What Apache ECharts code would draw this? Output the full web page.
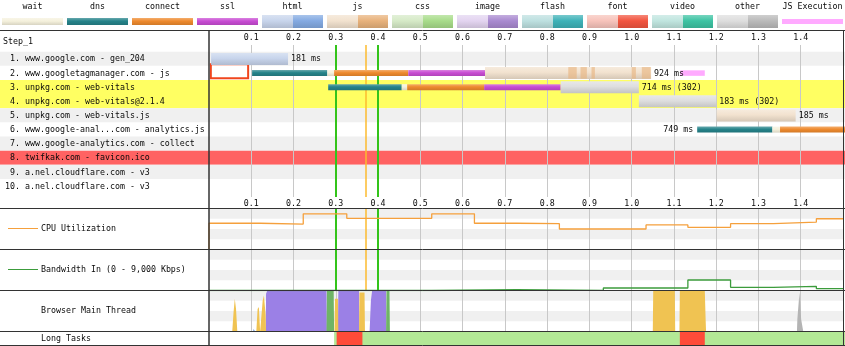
<!DOCTYPE html>
<html><head><meta charset="utf-8">
<script src="https://cdn.jsdelivr.net/npm/echarts@6/dist/echarts.min.js"></script>
<style>html,body{margin:0;padding:0;background:#fff}#c{width:845px;height:346px}</style>
</head><body><div id="c"></div>
<script>
// ---------------- DATA ----------------
const legendNames = ['wait','dns','connect','ssl','html','js','css','image','flash','font','video','other','JS Execution'];
const timeTicks = [0.1,0.2,0.3,0.4,0.5,0.6,0.7,0.8,0.9,1.0,1.1,1.2,1.3,1.4];
const stepName = 'Step_1';
const rowLabels = [
  ' 1. www.google.com - gen_204',
  ' 2. www.googletagmanager.com - js',
  ' 3. unpkg.com - web-vitals',
  ' 4. unpkg.com - web-vitals@2.1.4',
  ' 5. unpkg.com - web-vitals.js',
  ' 6. www.google-anal...com - analytics.js',
  ' 7. www.google-analytics.com - collect',
  ' 8. twifkak.com - favicon.ico',
  ' 9. a.nel.cloudflare.com - v3',
  '10. a.nel.cloudflare.com - v3'
];
const rowStatus = [200,200,302,302,200,200,200,404,200,200];
// [row, start s, end s, phase]
const segments = [
  [1, 0.005, 0.187, 'html'],
  [2, 0.102, 0.280, 'dns'],
  [2, 0.280, 0.296, 'wait'],
  [2, 0.296, 0.4715, 'connect'],
  [2, 0.4715, 0.653, 'ssl'],
  [2, 0.653, 1.046, 'js'],
  [3, 0.282, 0.456, 'dns'],
  [3, 0.456, 0.469, 'wait'],
  [3, 0.469, 0.651, 'connect'],
  [3, 0.651, 0.832, 'ssl'],
  [3, 0.832, 1.017, 'other'],
  [4, 1.017, 1.200, 'other'],
  [5, 1.201, 1.388, 'js'],
  [6, 1.155, 1.333, 'dns'],
  [6, 1.333, 1.351, 'wait'],
  [6, 1.351, 1.510, 'connect']
];
const downloadChunks = [[2,0.850,0.870],[2,0.879,0.894],[2,0.905,0.913],[2,1.000,1.010],[2,1.024,1.045]];
const jsExecution = [[2, 1.115, 1.173]];
const blockedBoxes = [[2, 0.002, 0.095]];
const durationLabels = [
  [1, 0.187, '181 ms', 'right'],
  [2, 1.046, '924 ms', 'right'],
  [3, 1.017, '714 ms (302)', 'right'],
  [4, 1.200, '183 ms (302)', 'right'],
  [5, 1.388, '185 ms', 'right'],
  [6, 1.155, '749 ms', 'left']
];
const eventTimes = [0.296, 0.371, 0.402];
const eventKinds = ['startRender', 'domInteractive', 'startRender'];

const cpuTimes  = [0, 0, 0.121, 0.223, 0.326, 0.527, 0.628, 0.728, 0.829, 1.034, 1.133, 1.234, 1.335, 1.437, 1.5];
const cpuValues = [0, 64, 62, 87, 76, 87, 64, 63, 50, 60, 54, 63, 67, 75, 75];
const bwTimes  = [0, 0.527, 0.728, 0.933, 1.133, 1.234, 1.335, 1.437, 1.5];
const bwValues = [0, 200, 30, 550, 2300, 700, 900, 400, 400];
const bwMax = 9000;

const mtScript = [[0.055,0],[0.058,45],[0.061,80],[0.064,55],[0.067,0],[0.112,0],[0.115,55],[0.118,60],[0.121,0],[0.124,0],[0.127,75],[0.130,88],[0.134,40],[0.135,0],[0.297,0],[0.298,80],[0.305,80],[0.306,0],[0.355,0],[0.356,95],[0.368,95],[0.369,0],[1.050,0],[1.051,100],[1.102,100],[1.103,0],[1.113,0],[1.114,100],[1.173,100],[1.175,30],[1.176,0]];
const mtLayout = [[0.134,0],[0.135,92],[0.138,100],[0.278,100],[0.279,0],[0.305,0],[0.306,100],[0.355,100],[0.356,0],[0.380,0],[0.383,75],[0.386,100],[0.419,100],[0.420,0]];
const mtPaint  = [[0.278,0],[0.279,100],[0.295,100],[0.296,0],[0.419,0],[0.420,100],[0.427,100],[0.428,0]];
const mtOther  = [[1.391,0],[1.392,30],[1.396,30],[1.397,95],[1.400,95],[1.401,30],[1.405,30],[1.406,0]];
const mtParse  = [[0.104,0],[0.105,6],[0.109,6],[0.110,0]];

const interactiveStart = 0.296;
const longTaskStarts = [0.302, 1.114];
const longTaskEnds   = [0.363, 1.173];

const sectionLabels = ['CPU Utilization', 'Bandwidth In (0 - 9,000 Kbps)', 'Browser Main Thread', 'Long Tasks'];

// ---------------- STYLE ----------------
const FONT = '8.3px "DejaVu Sans Mono", monospace';
const TEXT = '#0a0a0a';
const phaseColors = {wait:'#f5f1dc', dns:'#25838a', connect:'#ee8a2e', ssl:'#c84cd3', jsExec:'#ffaaff'};
const mimeColors = {
  html:['#c8d5ec','#84aae2'], js:['#f2e2cf','#e8b27c'], css:['#d6eac7','#a8dc8a'],
  image:['#e3d4f0','#a98ad0'], flash:['#bde0e0','#3eb2b8'], font:['#f7c3bb','#f2553f'],
  video:['#c0e5df','#3dc3a3'], other:['#dedede','#bababa']
};
const eventColors = {startRender:'#33c41a', domInteractive:'#fdbb2f'};
const cpuColor = '#f5a03c', bwColor = '#3c9c3c';
const mtColors = {script:'#f0c352', layout:'#9b80e6', paint:'#6fb466', other:'#b4b4b4', parse:'#8fb2e6'};
const stripeColor = '#f0f0f0';

function hexAdj(hex, f){
  const n = parseInt(hex.slice(1),16);
  let r=(n>>16)&255,g=(n>>8)&255,b=n&255;
  const m = f>0 ? (c)=>Math.round(c+(255-c)*f) : (c)=>Math.round(c*(1+f));
  return 'rgb('+m(r)+','+m(g)+','+m(b)+')';
}
function grad(c){
  return new echarts.graphic.LinearGradient(0,0,0,1,[
    {offset:0,color:hexAdj(c,0.3)},{offset:0.45,color:c},{offset:1,color:hexAdj(c,-0.12)}]);
}
function txt(text, x, y, align){
  return {type:'text', x, y, z:100, silent:true, style:{text, font:FONT, fill:TEXT,
    align:align||'left', verticalAlign:'middle', textAlign:align||'left', textVerticalAlign:'middle'}};
}

// ---------------- LAYOUT ----------------
const X0 = -2.35, XW = 845.35; // grid spanning -0.5..1.5 s
const grids = [
  {left:X0, width:XW, top:45, height:152, outerBoundsMode:'none'},
  {left:X0, width:XW, top:208.5, height:41, outerBoundsMode:'none'},
  {left:X0, width:XW, top:249.5, height:41, outerBoundsMode:'none'},
  {left:X0, width:XW, top:290.5, height:41, outerBoundsMode:'none'},
  {left:X0, width:XW, top:331.5, height:14, outerBoundsMode:'none'}
];
function tickFmt(v){ return (v>0.05 && v<1.45) ? (Math.round(v*10)/10).toFixed(1) : ''; }
function xAx(gi, show, pos, margin){
  return {type:'value', gridIndex:gi, min:-0.5, max:1.5, interval:0.1, position:pos||'bottom',
    axisLine:{show:false}, axisTick:{show:false}, splitLine:{show:false},
    axisLabel:{show:show, margin:margin||0, formatter:tickFmt, fontFamily:'DejaVu Sans Mono', fontSize:8.3, color:TEXT}};
}
const xAxes = [xAx(0,true,'top',3.5), xAx(0,true,'bottom',2.5), xAx(1,false), xAx(2,false), xAx(3,false), xAx(4,false)];
const yAxes = [
  {type:'value', gridIndex:0, inverse:true, min:0.031, max:10.778, show:false},
  {type:'value', gridIndex:1, min:0, max:100, show:false},
  {type:'value', gridIndex:2, min:0, max:bwMax, show:false},
  {type:'value', gridIndex:3, min:0, max:100, show:false},
  {type:'value', gridIndex:4, min:0, max:1, show:false}
];

const series = [];
function carrier(xi, yi, z, extra){
  return Object.assign({type:'line', xAxisIndex:xi, yAxisIndex:yi, data:[], z, silent:true, animation:false}, extra);
}
function gridLinesML(){
  return {symbol:['none','none'], silent:true, animation:false, label:{show:false}, emphasis:{disabled:true},
    lineStyle:{color:'#c8c8c8', width:1, type:'solid'}, data: timeTicks.map(t=>({xAxis:t}))};
}
function eventML(){
  return {symbol:['none','none'], silent:true, animation:false, label:{show:false}, emphasis:{disabled:true},
    data: eventTimes.map((t,i)=>({xAxis:t, lineStyle:{color:eventColors[eventKinds[i]], width:eventKinds[i]==='startRender'?2:1.5, type:'solid'}}))};
}

// Waterfall: row backgrounds
series.push({type:'custom', xAxisIndex:0, yAxisIndex:0, z:1, silent:true, animation:false,
  data: rowLabels.map((_,i)=>[i+1]),
  renderItem(params, api){
    const r = api.value(0);
    const a = api.coord([-0.5, r]), b = api.coord([1.5, r]);
    const h = api.size([0,1])[1];
    const st = rowStatus[r-1];
    const fill = st>=400 ? '#ff6262' : st>=300 ? '#ffff62' : (r%2===1 ? '#f0f0f0' : null);
    if(!fill) return null;
    return {type:'rect', shape:{x:a[0], y:a[1]-h/2, width:b[0]-a[0]+4, height:h}, style:{fill}};
  }});
series.push(carrier(0,0,2,{markLine:gridLinesML()}));
series.push(carrier(0,0,3,{markLine:eventML()}));
// blocked box
series.push({type:'custom', xAxisIndex:0, yAxisIndex:0, z:4, silent:true, animation:false,
  data: blockedBoxes.map(b=>[b[0],b[1],b[2]]),
  renderItem(params, api){
    const r = api.value(0);
    const a = api.coord([api.value(1), r]), b = api.coord([api.value(2), r]);
    return {type:'rect', shape:{x:a[0]+1, y:a[1]-8.5, width:b[0]-a[0]-2, height:14},
      style:{fill:'#ffffff', stroke:'#f0461e', lineWidth:2}};
  }});
// segments
series.push({type:'custom', xAxisIndex:0, yAxisIndex:0, z:5, silent:true, animation:false,
  data: segments.map(s=>[s[0],s[1],s[2]]),
  renderItem(params, api){
    const seg = segments[params.dataIndex];
    const r = seg[0], kind = seg[3];
    const a = api.coord([seg[1], r]), b = api.coord([seg[2], r]);
    const thin = kind in phaseColors;
    const h = thin ? 6 : 12;
    const c = thin ? phaseColors[kind] : mimeColors[kind][0];
    return {type:'rect', shape:{x:a[0], y:a[1]-h/2+0.2, width:b[0]-a[0], height:h}, style:{fill:grad(c)}};
  }});
// download chunks
series.push({type:'custom', xAxisIndex:0, yAxisIndex:0, z:6, silent:true, animation:false,
  data: downloadChunks.map(s=>[s[0],s[1],s[2]]),
  renderItem(params, api){
    const r = api.value(0);
    const a = api.coord([api.value(1), r]), b = api.coord([api.value(2), r]);
    return {type:'rect', shape:{x:a[0], y:a[1]-5.8, width:b[0]-a[0], height:11.6}, style:{fill:mimeColors.js[1], opacity:0.6}};
  }});
// JS execution
series.push({type:'custom', xAxisIndex:0, yAxisIndex:0, z:6, silent:true, animation:false,
  data: jsExecution.map(s=>[s[0],s[1],s[2]]),
  renderItem(params, api){
    const r = api.value(0);
    const a = api.coord([api.value(1), r]), b = api.coord([api.value(2), r]);
    return {type:'rect', shape:{x:a[0], y:a[1]-2.5, width:b[0]-a[0], height:5.5}, style:{fill:phaseColors.jsExec}};
  }});
// duration labels
series.push({type:'custom', xAxisIndex:0, yAxisIndex:0, z:7, silent:true, animation:false,
  data: durationLabels.map(d=>[d[0],d[1]]),
  renderItem(params, api){
    const d = durationLabels[params.dataIndex];
    const p = api.coord([d[1], d[0]]);
    const right = d[3]==='right';
    return {type:'text', x: right ? p[0]+3 : p[0]-4, y: p[1]+0.5,
      style:{text:d[2], font:FONT, fill:TEXT, align:right?'left':'right', verticalAlign:'middle',
        textAlign:right?'left':'right', textVerticalAlign:'middle'}};
  }});
// row labels
series.push({type:'custom', xAxisIndex:0, yAxisIndex:0, z:7, silent:true, animation:false,
  data: rowLabels.map((_,i)=>[i+1]),
  renderItem(params, api){
    const r = api.value(0);
    const p = api.coord([0, r]);
    return {type:'text', x:5, y:p[1]+0.5,
      style:{text:rowLabels[r-1], font:FONT, fill:TEXT, align:'left', verticalAlign:'middle', textAlign:'left', textVerticalAlign:'middle'}};
  }});

// stripes for lower sections
function stripesMA(ymax){
  return {silent:true, animation:false, emphasis:{disabled:true}, label:{show:false}, itemStyle:{color:stripeColor},
    data:[[{xAxis:0,yAxis:0.75*ymax},{xAxis:1.5,yAxis:ymax}],[{xAxis:0,yAxis:0.25*ymax},{xAxis:1.5,yAxis:0.5*ymax}]]};
}
// CPU
series.push(carrier(2,1,1,{markArea:stripesMA(100)}));
series.push(carrier(2,1,2,{markLine:gridLinesML()}));
series.push(carrier(2,1,3,{markLine:eventML()}));
series.push({type:'line', xAxisIndex:2, yAxisIndex:1, z:5, step:'end', showSymbol:false, symbol:'none', silent:true, animation:false,
  lineStyle:{color:cpuColor, width:1.3}, data: cpuTimes.map((t,i)=>[t,cpuValues[i]])});
// Bandwidth
series.push(carrier(3,2,1,{markArea:stripesMA(bwMax)}));
series.push(carrier(3,2,2,{markLine:gridLinesML()}));
series.push(carrier(3,2,3,{markLine:eventML()}));
series.push({type:'line', xAxisIndex:3, yAxisIndex:2, z:5, step:'end', showSymbol:false, symbol:'none', silent:true, animation:false,
  lineStyle:{color:bwColor, width:1.3}, data: bwTimes.map((t,i)=>[t,bwValues[i]])});
// Main thread
series.push(carrier(4,3,1,{markArea:stripesMA(100)}));
series.push(carrier(4,3,2,{markLine:gridLinesML()}));
function area(data, color){
  return {type:'line', xAxisIndex:4, yAxisIndex:3, z:5, data, showSymbol:false, symbol:'none', silent:true, animation:false,
    lineStyle:{width:0, opacity:0}, areaStyle:{color, opacity:1}};
}
series.push(area(mtLayout, mtColors.layout));
series.push(area(mtPaint, mtColors.paint));
series.push(area(mtParse, mtColors.parse));
series.push(area(mtOther, mtColors.other));
series.push(area(mtScript, mtColors.script));
// Long tasks
const ltData = [[interactiveStart, 1.5, 0]].concat(longTaskStarts.map((s,i)=>[s, longTaskEnds[i], 1]));
series.push({type:'custom', xAxisIndex:5, yAxisIndex:4, z:5, silent:true, animation:false,
  data: ltData,
  renderItem(params, api){
    const a = api.coord([api.value(0), 1]), b = api.coord([api.value(1), 0]);
    return {type:'rect', shape:{x:a[0], y:a[1], width:b[0]-a[0]+(api.value(2)?0:3), height:b[1]-a[1]},
      style:{fill: api.value(2) ? '#fe4b39' : '#b3e896'}};
  }});

// ---------------- GRAPHIC (legend, frame, side labels) ----------------
const gfx = [];
legendNames.forEach((name,i)=>{
  const x0 = 2 + 65*i;
  gfx.push(txt(name, x0+30.5, 7, 'center'));
  if (name in phaseColors) {
    gfx.push({type:'rect', z:100, silent:true, shape:{x:x0, y:18, width:61, height:7}, style:{fill:grad(phaseColors[name])}});
  } else if (name === 'JS Execution') {
    gfx.push({type:'rect', z:100, silent:true, shape:{x:x0, y:19, width:61, height:5}, style:{fill:phaseColors.jsExec}});
  } else {
    const c = mimeColors[name];
    gfx.push({type:'rect', z:100, silent:true, shape:{x:x0, y:15, width:31, height:13}, style:{fill:grad(c[0])}});
    gfx.push({type:'rect', z:100, silent:true, shape:{x:x0+31, y:15, width:30, height:13}, style:{fill:grad(c[1])}});
  }
});
gfx.push(txt(stepName, 3, 41.5, 'left'));
const ly = [229, 270, 311, 338.5];
sectionLabels.forEach((s,i)=>gfx.push(txt(s, 41, ly[i], 'left')));
gfx.push({type:'line', z:100, silent:true, shape:{x1:8,y1:228.5,x2:38,y2:228.5}, style:{stroke:cpuColor, lineWidth:1}});
gfx.push({type:'line', z:100, silent:true, shape:{x1:8,y1:269.5,x2:38,y2:269.5}, style:{stroke:bwColor, lineWidth:1}});
[30.5, 208.5, 249.5, 290.5, 331.5, 345.5].forEach(y=>{
  gfx.push({type:'line', z:110, silent:true, shape:{x1:0,y1:y,x2:845,y2:y}, style:{stroke:'#333', lineWidth:1}});
});
gfx.push({type:'line', z:110, silent:true, shape:{x1:209,y1:30,x2:209,y2:346}, style:{stroke:'#333', lineWidth:1.5}});
gfx.push({type:'line', z:110, silent:true, shape:{x1:843.5,y1:30,x2:843.5,y2:346}, style:{stroke:'#333', lineWidth:1}});

const chart = echarts.init(document.getElementById('c'), null, {renderer:'canvas'});
chart.setOption({
  animation:false,
  backgroundColor:'#ffffff',
  grid: grids,
  xAxis: xAxes,
  yAxis: yAxes,
  series,
  graphic: {elements: gfx}
});
</script>
</body></html>
